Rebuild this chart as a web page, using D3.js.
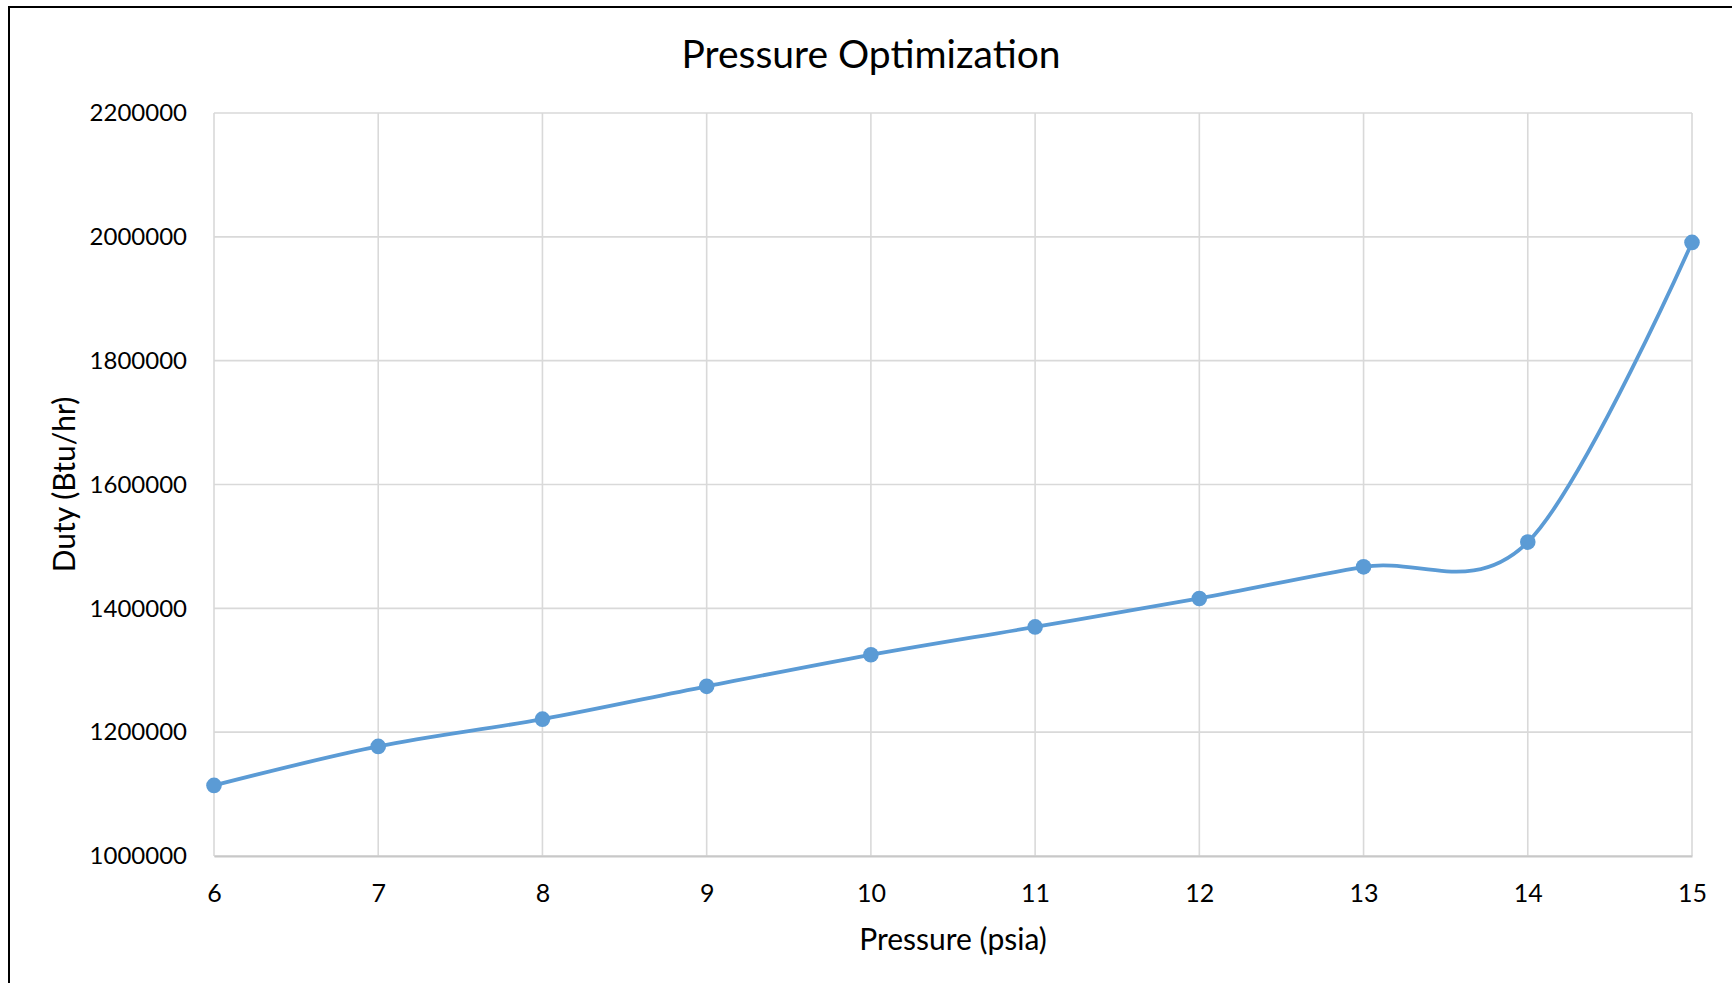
<!DOCTYPE html>
<html>
<head>
<meta charset="utf-8">
<script src="https://cdn.jsdelivr.net/npm/d3@7"></script>
<style>
  html, body { margin: 0; padding: 0; background: #fff; }
  svg { display: block; }
  text { font-family: Lato, "Open Sans", "DejaVu Sans", sans-serif; fill: #000; }
</style>
</head>
<body>
<svg id="chart" width="1732" height="983"></svg>
<script>
// Pressure sweep (psia) and the resulting duty (Btu/hr)
const pressure = [6, 7, 8, 9, 10, 11, 12, 13, 14, 15];
const duty = [1114000, 1177000, 1221000, 1274000, 1325000, 1370000, 1416000, 1467000, 1507000, 1991000];
const xTicks = [6, 7, 8, 9, 10, 11, 12, 13, 14, 15];
const yTicks = [1000000, 1200000, 1400000, 1600000, 1800000, 2000000, 2200000];

const W = 1732, H = 983;
const plot = { left: 214, top: 113, right: 1692, bottom: 856 };
const svg = d3.select("#chart");

// chart area frame
svg.append("rect")
  .attr("x", 9).attr("y", 7)
  .attr("width", W + 20).attr("height", H + 20)
  .attr("fill", "#fff").attr("stroke", "#000").attr("stroke-width", 2);

const x = d3.scaleLinear().domain([6, 15]).range([plot.left, plot.right]);
const y = d3.scaleLinear().domain([1000000, 2200000]).range([plot.bottom, plot.top]);

// gridlines
const grid = svg.append("g");
grid.selectAll("line.h").data(yTicks).join("line")
  .attr("x1", plot.left).attr("x2", plot.right)
  .attr("y1", d => y(d)).attr("y2", d => y(d))
  .attr("stroke", "#d9d9d9").attr("stroke-width", 1.6);
grid.selectAll("line.v").data(xTicks).join("line")
  .attr("y1", plot.top).attr("y2", plot.bottom)
  .attr("x1", d => x(d)).attr("x2", d => x(d))
  .attr("stroke", "#d9d9d9").attr("stroke-width", 1.6);

// x axis
const xAxis = svg.append("g")
  .attr("transform", `translate(0,${plot.bottom})`)
  .call(d3.axisBottom(x).tickValues(xTicks).tickSize(0).tickPadding(28).tickFormat(d3.format("d")));
xAxis.select(".domain").attr("stroke", "#c8c8c8").attr("stroke-width", 1.8);
xAxis.selectAll("text").style("font-size", "25px").style("font-family", "Lato, 'Open Sans', sans-serif").attr("fill", "#000");

// y axis
const yAxis = svg.append("g")
  .attr("transform", `translate(${plot.left},0)`)
  .call(d3.axisLeft(y).tickValues(yTicks).tickSize(0).tickPadding(27).tickFormat(d3.format("d")));
yAxis.select(".domain").remove();
yAxis.selectAll("text").style("font-size", "24px").style("font-family", "Lato, 'Open Sans', sans-serif").attr("fill", "#000");

// smoothed series line
const pts = pressure.map((p, i) => [p, duty[i]]);
const line = d3.line()
  .x(d => x(d[0])).y(d => y(d[1]))
  .curve(d3.curveCardinal.tension(0));
svg.append("path")
  .datum(pts)
  .attr("d", line)
  .attr("fill", "none")
  .attr("stroke", "#5b9bd5")
  .attr("stroke-width", 3.8)
  .attr("stroke-linecap", "round");

svg.append("g").selectAll("circle").data(pts).join("circle")
  .attr("cx", d => x(d[0])).attr("cy", d => y(d[1]))
  .attr("r", 7.8)
  .attr("fill", "#5b9bd5");

// titles
svg.append("text")
  .attr("x", 871).attr("y", 53)
  .attr("text-anchor", "middle").attr("dominant-baseline", "central")
  .style("font-size", "39px")
  .text("Pressure Optimization");

svg.append("text")
  .attr("x", (plot.left + plot.right) / 2).attr("y", 938)
  .attr("text-anchor", "middle").attr("dominant-baseline", "central")
  .style("font-size", "30px")
  .text("Pressure (psia)");

svg.append("text")
  .attr("transform", `translate(63,${(plot.top + plot.bottom) / 2}) rotate(-90)`)
  .attr("text-anchor", "middle").attr("dominant-baseline", "central")
  .style("font-size", "30px")
  .text("Duty (Btu/hr)");
</script>
</body>
</html>
